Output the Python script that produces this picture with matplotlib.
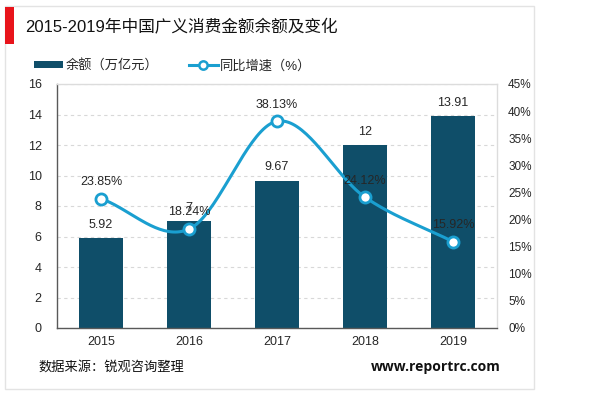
import numpy as np
import matplotlib
matplotlib.use("Agg")
import matplotlib.pyplot as plt
from matplotlib.patches import Rectangle
from matplotlib.lines import Line2D

plt.rcParams['font.family'] = ['Liberation Sans', 'Noto Sans CJK SC', 'DejaVu Sans']

years = ["2015", "2016", "2017", "2018", "2019"]
balance = [5.92, 7, 9.67, 12, 13.91]
growth = [23.85, 18.24, 38.13, 24.12, 15.92]
balance_labels = ["5.92", "7", "9.67", "12", "13.91"]
growth_labels = ["23.85%", "18.24%", "38.13%", "24.12%", "15.92%"]

bar_color = "#0f4e69"
line_color = "#1a9fd0"
text_color = "#262626"

fig = plt.figure(figsize=(6, 3.93), dpi=100)
fig.patch.set_facecolor("white")

# outer frame
fig.add_artist(Rectangle((5/600, 1-389/393), 529/600, 383/393, transform=fig.transFigure,
                         fill=False, edgecolor="#e3e3e3", linewidth=1))
# red marker
fig.add_artist(Rectangle((5/600, 1-44/393), 9/600, 37/393, transform=fig.transFigure,
                         facecolor="#e8141b", edgecolor="none"))
fig.text(25/600, 1-27/393, "2015-2019年中国广义消费金额余额及变化", fontsize=12,
         va="center", ha="left", color="#111111")

ax = fig.add_axes([57/600, 1-328/393, 440/600, 244/393])
x = np.arange(len(years))
ax.bar(x, balance, width=0.49, color=bar_color, zorder=2)
ax.set_ylim(0, 16)
ax.set_yticks(np.arange(0, 17, 2))
ax.set_xlim(-0.5, len(years) - 0.5)
ax.set_xticks(x)
ax.set_xticklabels(years)
ax.spines["top"].set_color("#dcdcdc")
ax.spines["right"].set_color("#dcdcdc")
ax.spines["left"].set_color("#595959")
ax.spines["bottom"].set_color("#595959")
for s in ax.spines.values():
    s.set_linewidth(1)
ax.tick_params(axis="both", length=0, labelsize=9, colors=text_color)
ax.tick_params(axis="x", pad=6)
ax.tick_params(axis="y", pad=11)
ax.grid(axis="y", linestyle=(0, (3, 3)), color="#d8d8d8", linewidth=0.8, zorder=0)
ax.set_axisbelow(True)
for xi, v, lab in zip(x, balance, balance_labels):
    ax.annotate(lab, (xi, v), xytext=(0, 9.5), textcoords="offset points",
                ha="center", va="center", fontsize=9, color=text_color, zorder=5)

ax2 = ax.twinx()
ax2.set_ylim(0, 45)
ax2.set_yticks(np.arange(0, 46, 5))
ax2.set_yticklabels([f"{t}%" for t in range(0, 46, 5)])
for s in ["top", "right", "left", "bottom"]:
    ax2.spines[s].set_visible(False)
ax2.tick_params(axis="y", length=0, labelsize=8.5, colors=text_color, pad=8)

# Catmull-Rom smoothing through the data points
def catmull_rom(xs, ys, n=40):
    xs = np.asarray(xs, float); ys = np.asarray(ys, float)
    px = np.concatenate([[2*xs[0]-xs[1]], xs, [2*xs[-1]-xs[-2]]])
    py = np.concatenate([[2*ys[0]-ys[1]], ys, [2*ys[-1]-ys[-2]]])
    ox, oy = [], []
    for i in range(1, len(px) - 2):
        t = np.linspace(0, 1, n)
        for arr, out in ((px, ox), (py, oy)):
            p0, p1, p2, p3 = arr[i-1], arr[i], arr[i+1], arr[i+2]
            out.extend(0.5*((2*p1) + (-p0+p2)*t + (2*p0-5*p1+4*p2-p3)*t**2 + (-p0+3*p1-3*p2+p3)*t**3))
    return np.array(ox), np.array(oy)

sx, sy = catmull_rom(x, growth)
ax2.plot(sx, sy, color=line_color, linewidth=2.2, zorder=3)
ax2.plot(x, growth, linestyle="none", marker="o", markersize=8, markerfacecolor="white",
         markeredgecolor=line_color, markeredgewidth=2, zorder=4)
for xi, v, lab in zip(x, growth, growth_labels):
    ax2.annotate(lab, (xi, v), xytext=(0, 12), textcoords="offset points",
                 ha="center", va="center", fontsize=9, color=text_color, zorder=5)

# legend
leg_handles = [Rectangle((0, 0), 1, 1, facecolor=bar_color),
               Line2D([0], [0], color=line_color, linewidth=2.2, marker="o", markersize=6,
                      markerfacecolor="white", markeredgecolor=line_color, markeredgewidth=1.8)]
fig.legend(leg_handles, ["余额（万亿元）", "同比增速（%）"], loc="center left",
           bbox_to_anchor=(22/600, 1-66/393), ncol=2, frameon=False, fontsize=9.5,
           handlelength=2.2, handleheight=0.45, columnspacing=2.3, handletextpad=0.2,
           labelcolor=text_color)

fig.text(38/600, 1-367/393, "数据来源：锐观咨询整理", fontsize=9.5, va="center", ha="left", color="#111111")
fig.text(501/600, 1-367/393, "www.reportrc.com", fontsize=10, fontweight="bold",
         va="center", ha="right", color="#111111", family="Open Sans")

fig.savefig("out.png", dpi=100)
